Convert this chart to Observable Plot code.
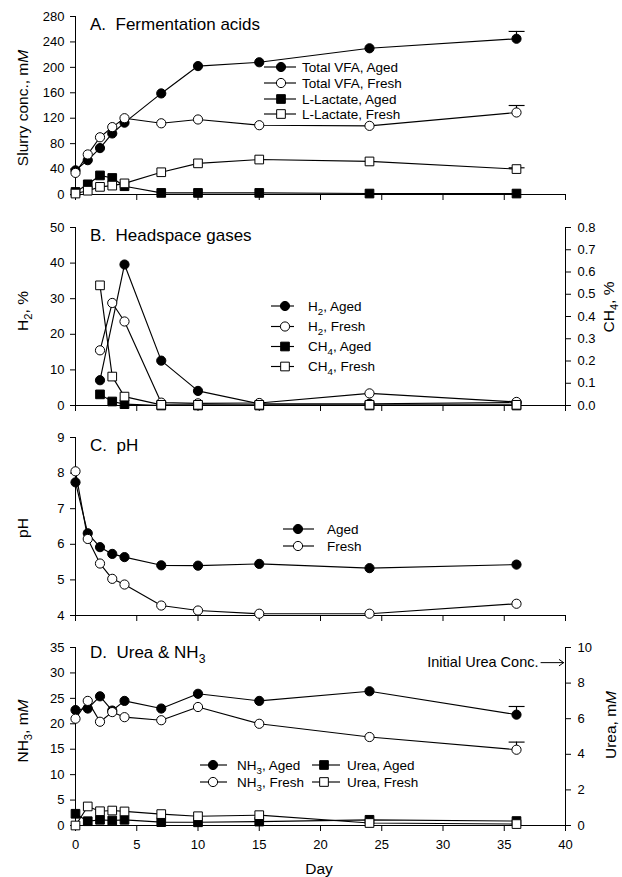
<!DOCTYPE html>
<html><head><meta charset="utf-8">
<script src="https://cdn.jsdelivr.net/npm/d3@7"></script>
<script src="https://cdn.jsdelivr.net/npm/@observablehq/plot@0.6"></script>
<style>
html,body{margin:0;padding:0;background:#fff;}
#chart{position:relative;width:622px;height:877px;font-family:"Liberation Sans",Arial,Helvetica,sans-serif;color:#000;background:#fff;}
#chart .panel{position:absolute;left:0;}
#overlay{position:absolute;left:0;top:0;pointer-events:none;}
</style></head><body><div id="chart"></div>
<script>
// ---------- data ----------
const days = [0, 1, 2, 3, 4, 7, 10, 15, 24, 36];
const xTicks = [0, 5, 10, 15, 20, 25, 30, 35, 40];

// A. Fermentation acids (mM)
const vfaAged  = [38, 54, 73, 96, 113, 159, 202, 208, 230, 245];
const vfaFresh = [34, 63, 90, 106, 120, 112, 118, 109, 108, 129];
const lacAged  = [4, 16, 30, 26, 13, 2.5, 2.5, 2.5, 1.5, 1.5];
const lacFresh = [1.5, 6, 12, 14, 17.5, 35, 49, 55, 52, 40];
const labelsA = ["Total VFA, Aged", "Total VFA, Fresh", "L-Lactate, Aged", "L-Lactate, Fresh"];
const yTicksA = [0, 40, 80, 120, 160, 200, 240, 280];

// B. Headspace gases
const h2AgedDays = [2, 4, 7, 10, 15, 24, 36];
const h2Aged     = [7.1, 39.6, 12.6, 4.1, 0.5, 0.5, 0.8];
const gasDays    = [2, 3, 4, 7, 10, 15, 24, 36];
const h2Fresh    = [15.5, 28.8, 23.6, 0.8, 0.6, 0.7, 3.4, 1.0];
const ch4Aged    = [0.05, 0.018, 0.006, 0, 0, 0, 0, 0];
const ch4Fresh   = [0.54, 0.13, 0.04, 0.003, 0.003, 0.003, 0.003, 0.003];
const labelsB = ["H_{2}, Aged", "H_{2}, Fresh", "CH_{4}, Aged", "CH_{4}, Fresh"];
const yTicksB = [0, 10, 20, 30, 40, 50];
const yRightTicksB = [0, 0.1, 0.2, 0.3, 0.4, 0.5, 0.6, 0.7, 0.8];

// C. pH
const phAged  = [7.74, 6.31, 5.92, 5.73, 5.64, 5.41, 5.40, 5.45, 5.33, 5.43];
const phFresh = [8.05, 6.15, 5.46, 5.03, 4.87, 4.28, 4.14, 4.05, 4.05, 4.33];
const labelsC = ["Aged", "Fresh"];
const yTicksC = [4, 5, 6, 7, 8, 9];

// D. Urea & NH3 (mM)
const nh3Aged   = [22.7, 23.0, 25.4, 22.6, 24.5, 23.0, 25.9, 24.5, 26.4, 21.8];
const nh3Fresh  = [21.0, 24.5, 20.4, 22.3, 21.3, 20.7, 23.3, 20.0, 17.4, 14.9];
const ureaAged  = [0.66, 0.24, 0.32, 0.28, 0.32, 0.19, 0.18, 0.22, 0.32, 0.25];
const ureaFresh = [0.0, 1.07, 0.80, 0.84, 0.79, 0.64, 0.52, 0.58, 0.14, 0.08];
const labelsD = ["NH_{3}, Aged", "NH_{3}, Fresh", "Urea, Aged", "Urea, Fresh"];
const yTicksD = [0, 5, 10, 15, 20, 25, 30, 35];
const yRightTicksD = [0, 2, 4, 6, 8, 10];
const initialUrea = 9.15;

// error bars (SE at last sampling day)
const errA = [
  {day: 36, mean: vfaAged[9], se: 11.5},
  {day: 36, mean: vfaFresh[9], se: 11},
  {day: 36, mean: lacFresh[9], se: 2}
];
const errD = [
  {day: 36, mean: nh3Aged[9], se: 1.6},
  {day: 36, mean: nh3Fresh[9], se: 1.5}
];

// ---------- helpers ----------
const FONT = '"Liberation Sans", Arial, Helvetica, sans-serif';
const RC = 4.6, RS = 4.9, SW = 1.15;
const kB = 50 / 0.8, kD = 35 / 10;

function ser(xs, ys, filled, symbol, k = 1) {
  return {rows: xs.map((x, i) => ({x, y: ys[i] * k})), filled, symbol};
}

function buildPanel(cfg) {
  const marks = [];
  marks.push(Plot.ruleX([0], {stroke: "#000", strokeWidth: 1}));
  if (cfg.right) marks.push(Plot.ruleX([40], {stroke: "#000", strokeWidth: 1}));
  marks.push(Plot.ruleY([cfg.yDomain[0]], {stroke: "#000", strokeWidth: 1}));
  marks.push(Plot.axisY({anchor: "left", ticks: cfg.yTicks, tickSize: 5, tickPadding: 6, label: null, tickFormat: d => String(d)}));
  if (cfg.right) marks.push(Plot.axisY({anchor: "right", ticks: cfg.right.ticks.map(v => v * cfg.right.k), tickSize: 5, tickPadding: 7, label: null, tickFormat: d => cfg.right.format(d / cfg.right.k)}));
  marks.push(Plot.axisX({anchor: "bottom", ticks: xTicks, tickSize: 6, tickPadding: cfg.xLabels ? 8 : 0, label: null, tickFormat: cfg.xLabels ? (d => String(d)) : (() => "")}));
  if (cfg.errors) {
    marks.push(Plot.ruleX(cfg.errors, {x: "day", y1: "mean", y2: d => d.mean + d.se, stroke: "#000", strokeWidth: SW}));
    marks.push(Plot.ruleY(cfg.errors, {y: d => d.mean + d.se, x1: d => d.day - 0.6, x2: d => d.day + 0.7, stroke: "#000", strokeWidth: SW}));
  }
  for (const s of cfg.series) {
    marks.push(Plot.line(s.rows, {x: "x", y: "y", stroke: "#000", strokeWidth: SW}));
    marks.push(Plot.dot(s.rows, {x: "x", y: "y", r: s.symbol === "square" ? RS : RC, symbol: s.symbol, fill: s.filled ? "#000" : "#fff", stroke: "#000", strokeWidth: 1}));
  }
  if (cfg.extra) marks.push(...cfg.extra);
  const svg = Plot.plot({
    width: 622, height: cfg.height,
    marginLeft: 75, marginRight: 57, marginTop: cfg.mt, marginBottom: cfg.mb,
    style: {fontFamily: FONT, fontSize: "13px", color: "#000", background: "transparent", overflow: "visible"},
    x: {domain: [0, 40]},
    y: {domain: cfg.yDomain},
    marks
  });
  const div = document.createElement("div");
  div.className = "panel";
  div.style.top = cfg.top + "px";
  div.appendChild(svg);
  document.getElementById("chart").appendChild(div);
}

// ---------- panels ----------
buildPanel({
  top: 0, height: 210, mt: 16, mb: 16, yDomain: [0, 280], yTicks: yTicksA, errors: errA,
  series: [ser(days, vfaAged, true, "circle"), ser(days, vfaFresh, false, "circle"),
           ser(days, lacAged, true, "square"), ser(days, lacFresh, false, "square")]
});
buildPanel({
  top: 210, height: 210, mt: 17, mb: 15, yDomain: [0, 50], yTicks: yTicksB,
  right: {ticks: yRightTicksB, k: kB, format: v => v.toFixed(1)},
  series: [ser(h2AgedDays, h2Aged, true, "circle"), ser(gasDays, h2Fresh, false, "circle"),
           ser(gasDays, ch4Aged, true, "square", kB), ser(gasDays, ch4Fresh, false, "square", kB)]
});
buildPanel({
  top: 420, height: 210, mt: 17, mb: 15, yDomain: [4, 9], yTicks: yTicksC,
  series: [ser(days, phAged, true, "circle"), ser(days, phFresh, false, "circle")]
});
buildPanel({
  top: 630, height: 247, mt: 17, mb: 52, yDomain: [0, 35], yTicks: yTicksD, errors: errD, xLabels: true,
  right: {ticks: yRightTicksD, k: kD, format: v => String(Math.round(v))},
  series: [ser(days, nh3Aged, true, "circle"), ser(days, nh3Fresh, false, "circle"),
           ser(days, ureaAged, true, "square", kD), ser(days, ureaFresh, false, "square", kD)],
  extra: [
    Plot.text([initialUrea], {y: d => d * kD, frameAnchor: "right", text: () => "Initial Urea Conc.", textAnchor: "end", dx: -27, fontSize: 14.5, fill: "#000"}),
    Plot.arrow([initialUrea], {x1: () => 40 - 2.0, x2: () => 40 - 0.15, y1: d => d * kD, y2: d => d * kD, stroke: "#000", strokeWidth: 1, headLength: 8, headAngle: 70})
  ]
});

// ---------- overlay: titles, axis titles, legends ----------
const ov = d3.select("#chart").append("svg").attr("id", "overlay")
  .attr("width", 622).attr("height", 877)
  .style("font-family", FONT);

function rich(t, str, fs) {
  const parts = str.split(/(_\{[^}]*\}|\*[^*]*\*)/).filter(s => s.length);
  let shifted = false;
  for (const p of parts) {
    if (p.startsWith("_{")) {
      t.append("tspan").attr("dy", fs * 0.28).attr("font-size", fs * 0.72).text(p.slice(2, -1));
      shifted = true;
    } else {
      const ts = t.append("tspan");
      if (shifted) { ts.attr("dy", -fs * 0.28); shifted = false; }
      if (p.startsWith("*")) ts.attr("font-style", "italic").text(p.slice(1, -1));
      else ts.text(p.replace(/  /g, "\u00a0\u00a0"));
    }
  }
}
function label(str, x, yC, fs, anchor = "start") {
  const t = ov.append("text").attr("x", x).attr("y", yC + 0.358 * fs)
    .attr("font-size", fs).attr("text-anchor", anchor).attr("fill", "#000");
  rich(t, str, fs);
}
function vlabel(str, xC, yC, fs) {
  const t = ov.append("text").attr("transform", `translate(${xC + 0.358 * fs},${yC}) rotate(-90)`)
    .attr("font-size", fs).attr("text-anchor", "middle").attr("fill", "#000");
  rich(t, str, fs);
}
function legendItem(x1, x2, mx, tx, yC, filled, symbol, text, fs) {
  ov.append("line").attr("x1", x1).attr("x2", x2).attr("y1", yC).attr("y2", yC).attr("stroke", "#000").attr("stroke-width", SW);
  if (symbol === "square") {
    ov.append("path").attr("d", d3.symbol(d3.symbolSquare, Math.PI * RS * RS)())
      .attr("transform", `translate(${mx},${yC})`).attr("fill", filled ? "#000" : "#fff").attr("stroke", "#000");
  } else {
    ov.append("circle").attr("cx", mx).attr("cy", yC).attr("r", RC)
      .attr("fill", filled ? "#000" : "#fff").attr("stroke", "#000");
  }
  label(text, tx, yC, fs);
}

// panel titles
label("A.  Fermentation acids", 90, 23.5, 17);
label("B.  Headspace gases", 90, 235, 17);
label("C.  pH", 90, 445, 17);
label("D.  Urea & NH_{3}", 90, 652, 17);

// axis titles
vlabel("Slurry conc., m*M*", 22, 108, 15.5);
vlabel("H_{2}, %", 22, 311, 15.5);
vlabel("CH_{4}, %", 608, 307, 15.5);
vlabel("pH", 22, 528, 15.5);
vlabel("NH_{3}, m*M*", 22, 731, 15.5);
vlabel("Urea, m*M*", 610, 725, 15.5);
label("Day", 319, 868, 15.5, "middle");

// legends
const symA = [[true, "circle"], [false, "circle"], [true, "square"], [false, "square"]];
const rowsA = [67, 83, 99, 114];
labelsA.forEach((s, i) => legendItem(264, 296, 281, 302, rowsA[i], symA[i][0], symA[i][1], s, 13.5));
const rowsB = [306, 326.5, 346.5, 366.5];
labelsB.forEach((s, i) => legendItem(271, 294, 285, 308, rowsB[i], symA[i][0], symA[i][1], s, 13.5));
const rowsC = [529, 546];
labelsC.forEach((s, i) => legendItem(283, 314, 298, 327, rowsC[i], symA[i][0], symA[i][1], s, 13.5));
const rowsD = [765, 782];
legendItem(200, 227, 213, 237, rowsD[0], true, "circle", labelsD[0], 13.5);
legendItem(200, 227, 213, 237, rowsD[1], false, "circle", labelsD[1], 13.5);
legendItem(312, 340, 324, 347, rowsD[0], true, "square", labelsD[2], 13.5);
legendItem(312, 340, 324, 347, rowsD[1], false, "square", labelsD[3], 13.5);
</script>
</body></html>
